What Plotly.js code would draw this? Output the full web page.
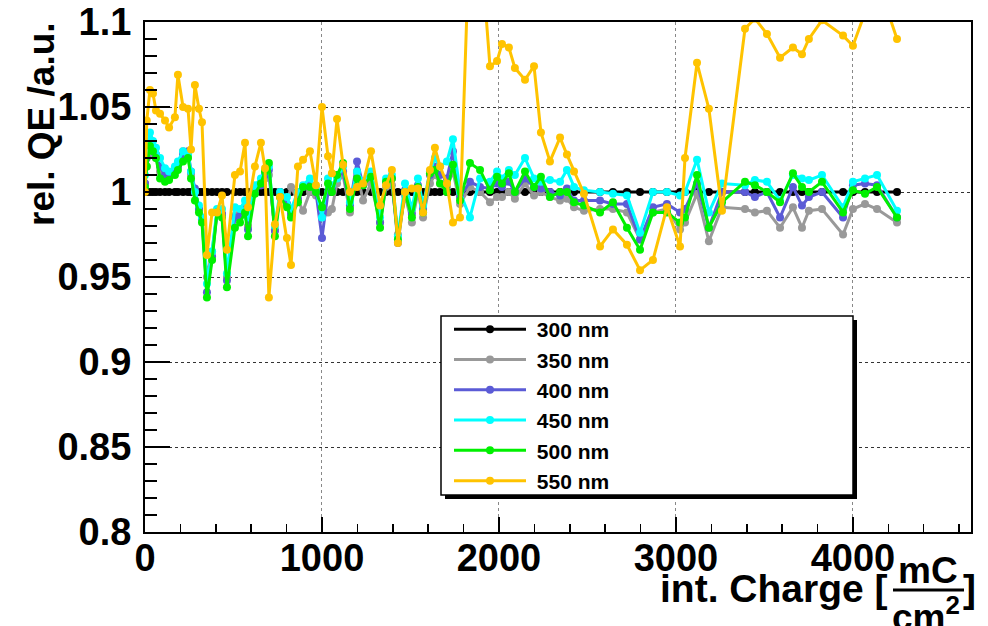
<!DOCTYPE html>
<html>
<head>
<meta charset="utf-8">
<script src="https://cdn.plot.ly/plotly-3.0.1.min.js"></script>
<style>html,body{margin:0;padding:0;background:#fff;}#chart{width:988px;height:626px;}</style>
</head>
<body>
<div id="chart"></div>
<script>
// integrated charge [mC/cm^2]
const charge = [0,10,28,45,62,85,113,136,169,186,
215,243,260,282,305,322,350,379,407,435,
463,508,537,565,582,621,655,678,700,734,
763,802,825,864,893,932,966,1000,1034,1056,
1085,1119,1158,1198,1232,1277,1328,1362,1395,1429,
1469,1508,1542,1571,1610,1638,1667,1706,1740,1780,
1836,1893,1949,1989,2017,2056,2090,2147,2198,2237,
2288,2345,2384,2424,2480,2571,2644,2723,2797,2870,
2949,3023,3051,3119,3186,3260,3390,3446,3514,3588,
3661,3712,3751,3825,3944,4000,4068,4136,4249];

const qe300 = [1,1,1,1,1,1,1,1,1,1,
1,1,1,1,1,1,1,1,1,1,
1,1,1,1,1,1,1,1,1,1,
1,1,1,1,1,1,1,1,1,1,
1,1,1,1,1,1,1,1,1,1,
1,1,1,1,1,1,1,1,1,1,
1,1,1,1,1,1,1,1,1,1,
1,1,1,1,1,1,1,1,1,1,
1,1,1,1,1,1,1,1,1,1,
1,1,1,1,1,1,1,1,1];

const qe350 = [1.005,1.015,1.025,1.022,1.020,1.012,1.010,1.010,1.012,1.016,
1.024,1.022,1.010,1.000,0.990,0.985,0.950,0.965,0.988,0.987,
0.950,0.986,0.988,0.990,0.980,1.000,1.004,1.008,1.010,0.978,
0.997,0.993,1.003,0.995,0.989,1.000,0.998,0.990,0.988,0.990,
1.005,1.010,0.988,1.012,0.995,1.005,0.982,1.003,1.004,0.975,
0.998,0.982,1.000,0.985,1.005,1.010,1.005,1.003,1.012,0.993,
1.003,1.000,0.994,0.997,0.997,1.000,0.996,1.005,0.998,1.000,
0.997,0.995,0.996,0.991,0.989,0.990,0.990,0.988,0.972,0.988,
0.990,0.978,0.982,0.999,0.971,0.991,0.990,0.988,0.989,0.979,
0.991,0.979,0.989,0.990,0.975,0.990,0.993,0.990,0.982];

const qe400 = [1.005,1.020,1.030,1.026,1.022,1.015,1.010,1.010,1.012,1.015,
1.022,1.024,1.012,1.002,0.990,0.984,0.941,0.962,0.988,0.987,
0.948,0.985,0.986,0.990,0.978,1.000,1.004,1.010,1.013,0.977,
0.998,0.993,0.987,0.996,1.003,1.004,1.000,0.973,1.000,1.002,
1.010,1.012,0.992,1.018,1.004,1.010,0.982,1.006,1.008,0.970,
1.001,0.987,1.004,0.990,1.010,1.015,1.010,1.008,1.024,0.997,
1.006,1.003,1.002,1.005,1.003,1.006,1.000,1.008,1.003,1.002,
1.000,0.998,1.002,0.995,0.995,0.995,0.993,0.993,0.972,0.991,
0.993,0.988,0.990,1.005,0.979,1.000,1.000,0.997,1.000,0.985,
1.003,0.992,0.997,1.000,0.985,1.004,1.005,1.004,0.985];

const qe450 = [1.010,1.025,1.035,1.030,1.026,1.020,1.014,1.012,1.015,1.018,
1.024,1.022,1.012,1.000,0.992,0.985,0.946,0.965,0.990,0.990,
0.952,0.991,0.990,0.995,0.985,1.004,1.008,1.012,1.015,0.980,
1.000,0.997,0.990,1.000,1.004,1.008,1.002,0.985,1.008,1.004,
1.008,1.015,0.994,1.012,1.006,1.012,0.985,1.008,1.010,0.974,
1.005,0.990,1.008,0.992,1.012,1.020,1.015,1.018,1.031,1.000,
0.985,1.008,1.006,1.012,1.008,1.013,1.010,1.020,1.008,1.006,
1.007,1.006,1.013,1.003,1.001,1.000,0.999,0.998,0.976,1.000,
1.000,0.998,1.000,1.019,0.988,1.005,1.004,1.007,1.006,0.995,
1.010,1.008,1.007,1.010,0.991,1.006,1.008,1.010,0.989];

const qe500 = [1.003,1.015,1.027,1.024,1.020,1.008,1.006,1.007,1.010,1.013,
1.018,1.020,1.008,0.995,0.988,0.982,0.938,0.960,0.988,0.985,
0.944,0.979,0.982,0.988,0.974,0.999,1.005,1.012,1.017,0.974,
0.997,0.991,0.985,0.994,1.003,1.003,1.000,0.991,1.005,1.000,
1.010,1.017,0.990,1.008,1.004,1.009,0.979,1.006,1.008,0.972,
1.000,0.985,1.003,0.988,1.011,1.013,1.005,1.000,1.016,0.995,
1.017,1.013,1.001,1.009,1.005,1.011,1.000,1.012,1.003,1.009,
0.997,1.000,1.000,0.994,0.992,0.988,0.994,0.979,0.966,0.988,
0.988,0.982,0.985,1.010,0.979,0.994,1.006,1.004,1.000,0.994,
1.011,1.003,1.000,1.006,0.988,1.001,0.999,1.003,0.985];

const qe550 = [1.000,1.042,1.060,1.058,1.048,1.046,1.042,1.038,1.044,1.069,
1.050,1.049,1.025,1.063,1.049,1.041,0.963,0.988,0.988,0.998,
0.966,1.010,1.012,1.029,0.991,1.015,1.029,1.014,0.938,0.981,
0.997,0.973,0.957,1.015,1.019,1.024,1.004,1.050,1.021,1.011,
1.043,1.016,1.000,1.003,1.005,1.024,0.992,1.004,1.013,0.970,
1.000,1.002,1.002,0.988,1.013,1.026,1.015,1.005,0.982,0.985,
1.160,1.150,1.074,1.077,1.087,1.085,1.073,1.066,1.074,1.035,
1.018,1.032,1.022,1.012,0.999,0.968,0.978,0.969,0.954,0.960,
0.991,0.968,1.020,1.076,1.049,0.989,1.096,1.102,1.093,1.079,
1.085,1.081,1.090,1.101,1.092,1.086,1.105,1.125,1.090];

const seriesNames = ['300 nm','350 nm','400 nm','450 nm','500 nm','550 nm'];
const seriesValues = [qe300, qe350, qe400, qe450, qe500, qe550];
const seriesColors = ['#000000','#999999','#5b5bd6','#00ffff','#00f000','#ffc300'];

const yTicks = [0.8,0.85,0.9,0.95,1,1.05,1.1];
const yTickText = ['0.8','0.85','0.9','0.95','1','1.05','1.1'];
const xTicks = [0,1000,2000,3000,4000];
const xTickText = ['0','1000','2000','3000','4000'];

// pixel helpers for layout placement (plot area 145..971 x 22..532)
const L = 145, R = 971, T = 22, B = 532;
const px = v => (v - L) / (R - L);
const py = v => (B - v) / (B - T);

const FONT = 'Liberation Sans, Arial, Helvetica, sans-serif';

const traces = seriesNames.map((n, i) => ({
  type: 'scatter', mode: 'lines+markers', name: '\u00a0' + n,
  x: charge, y: seriesValues[i],
  legendgroup: 'g' + i,
  line: {color: seriesColors[i], width: 3},
  marker: {color: seriesColors[i], size: 8, symbol: 'circle'},
  cliponaxis: true
}));

const layout = {
  width: 988, height: 626,
  margin: {l: L, r: 988 - R, t: T, b: 626 - B, pad: 0},
  paper_bgcolor: '#ffffff', plot_bgcolor: '#ffffff',
  font: {family: FONT, color: '#000', size: 36, weight: 700},
  showlegend: true,
  legend: {
    x: px(449), y: py(309), xanchor: 'left', yanchor: 'top',
    bgcolor: 'rgba(0,0,0,0)', borderwidth: 0,
    font: {family: FONT, size: 21, weight: 700, color: '#000'},
    itemwidth: 72, tracegroupgap: 3, traceorder: 'normal'
  },
  xaxis: {
    range: [0, 4667], showline: true, mirror: true, linecolor: '#000', linewidth: 2,
    tickmode: 'array', tickvals: xTicks, ticktext: xTickText,
    ticks: 'inside', ticklen: 15, tickwidth: 1.5, tickcolor: '#000',
    minor: {dtick: 200, ticks: 'inside', ticklen: 8, tickwidth: 1.5, tickcolor: '#000', showgrid: false},
    showgrid: true, gridcolor: '#888', griddash: 'dot', gridwidth: 1,
    zeroline: false, tickfont: {family: FONT, size: 38, weight: 700},
    ticklabelstandoff: -9
  },
  yaxis: {
    range: [0.8, 1.1], showline: true, mirror: true, linecolor: '#000', linewidth: 2,
    tickmode: 'array', tickvals: yTicks, ticktext: yTickText,
    ticks: 'inside', ticklen: 25, tickwidth: 1.5, tickcolor: '#000',
    minor: {dtick: 0.01, ticks: 'inside', ticklen: 12, tickwidth: 1.5, tickcolor: '#000', showgrid: false},
    showgrid: true, gridcolor: '#333', griddash: 'dot', gridwidth: 1,
    zeroline: false, tickfont: {family: FONT, size: 38, weight: 700},
    ticklabelstandoff: 4
  },
  shapes: [
    {type: 'rect', xref: 'paper', yref: 'paper', layer: 'above',
     x0: px(445), x1: px(857), y0: py(320), y1: py(499),
     fillcolor: '#000', line: {width: 0}},
    {type: 'rect', xref: 'paper', yref: 'paper', layer: 'above',
     x0: px(441), x1: px(853), y0: py(316), y1: py(495),
     fillcolor: '#fff', line: {color: '#000', width: 1.5}},
    {type: 'line', xref: 'paper', yref: 'paper',
     x0: px(893), x1: px(964), y0: py(590), y1: py(590),
     line: {color: '#000', width: 3}}
  ],
  annotations: [
    {text: 'rel. QE /a.u.', xref: 'paper', yref: 'paper', x: px(42), y: py(124),
     xanchor: 'center', yanchor: 'middle', textangle: -90, showarrow: false,
     font: {family: FONT, size: 37, weight: 700}},
    {text: 'int. Charge [', xref: 'paper', yref: 'paper', x: px(890), y: py(588),
     xanchor: 'right', yanchor: 'middle', showarrow: false,
     font: {family: FONT, size: 39, weight: 700}},
    {text: 'mC', xref: 'paper', yref: 'paper', x: px(928), y: py(570),
     xanchor: 'center', yanchor: 'middle', showarrow: false,
     font: {family: FONT, size: 37, weight: 700}},
    {text: 'cm<sup>2</sup>', xref: 'paper', yref: 'paper', x: px(926), y: py(614),
     xanchor: 'center', yanchor: 'middle', showarrow: false,
     font: {family: FONT, size: 37, weight: 700}},
    {text: ']', xref: 'paper', yref: 'paper', x: px(969), y: py(588),
     xanchor: 'center', yanchor: 'middle', showarrow: false,
     font: {family: FONT, size: 39, weight: 700}}
  ]
};

Plotly.newPlot('chart', traces, layout, {staticPlot: true, displayModeBar: false});
</script>
</body>
</html>
